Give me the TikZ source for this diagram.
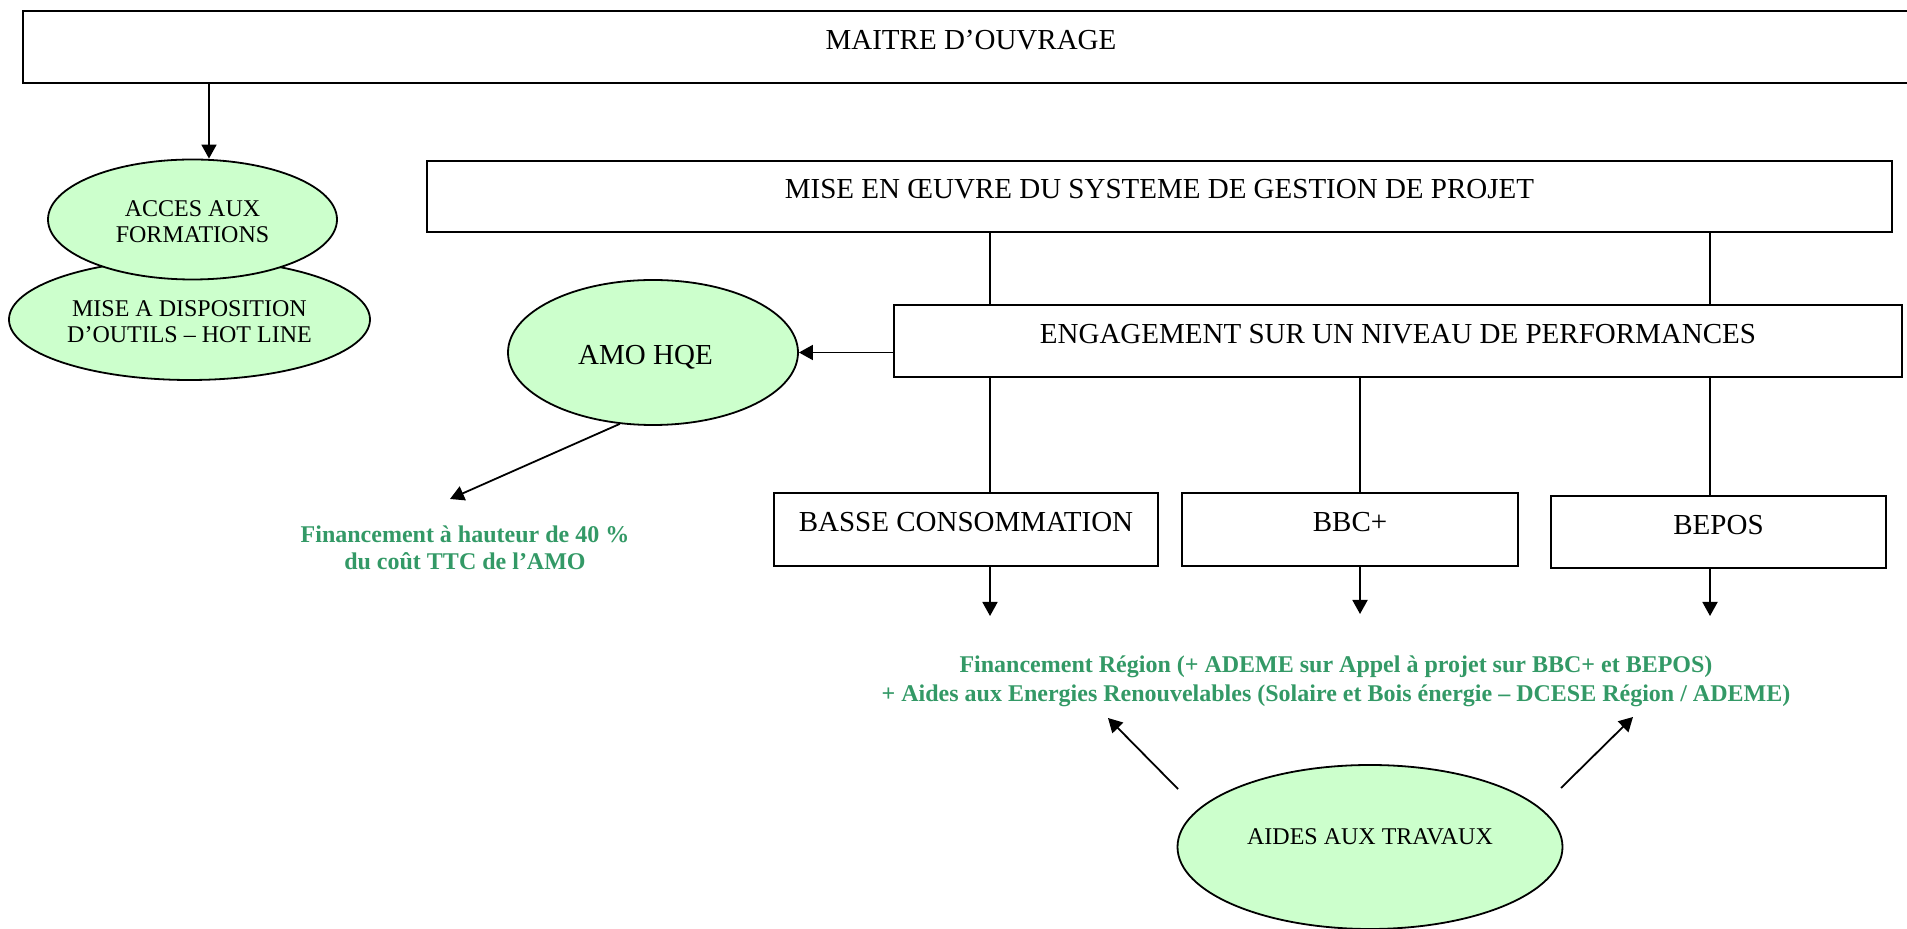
\documentclass[tikz,border=0pt]{standalone}
\usepackage{fontspec}
\setmainfont{Liberation Serif}
\usetikzlibrary{shapes.geometric,arrows.meta}
\definecolor{ellfill}{HTML}{CCFFCC}
\definecolor{fingreen}{HTML}{339966}
\begin{document}
\begin{tikzpicture}[x=0.5pt,y=-0.5pt,
  box/.style={draw, line width=1pt, rectangle, inner sep=0pt,
    font=\fontsize{14.5}{16}\selectfont, text height=10pt, text depth=7.75pt},
  ell/.style={draw, line width=0.9pt, ellipse, fill=ellfill, inner sep=0pt,
    align=center, font=\fontsize{12}{13}\selectfont},
  ell2/.style={ell, text height=23.4pt, text depth=0pt},
  fin/.style={text=fingreen, font=\bfseries\fontsize{12}{13.5}\selectfont,
    align=center, inner sep=0pt},
  conn/.style={line width=0.9pt},
  arr/.style={line width=0.9pt, -{Triangle[length=7pt,width=7.5pt]}}]
\useasboundingbox (0,0) rectangle (1907,929);

% boxes
\node[box, minimum width=943.5pt, minimum height=35.75pt] (maitre) at (966.5,47.25) {\hspace*{4.5pt}MAITRE D’OUVRAGE};
\node[box, minimum width=732.5pt, minimum height=35.5pt] (mise) at (1159.5,196.5) {MISE EN ŒUVRE DU SYSTEME DE GESTION DE PROJET};
\node[box, minimum width=504pt, minimum height=36pt] (eng) at (1398,341) {ENGAGEMENT SUR UN NIVEAU DE PERFORMANCES};
\node[box, minimum width=192pt, minimum height=36.5pt] (basse) at (966,529.5) {BASSE CONSOMMATION};
\node[box, minimum width=168pt, minimum height=36.5pt] (bbc) at (1350,529.5) {BBC+};
\node[box, minimum width=167.5pt, minimum height=36pt] (bepos) at (1718.5,532) {BEPOS};

% ellipses
\node[ell2, minimum width=180.5pt, minimum height=60.5pt] (dispo) at (189.5,319.5) {MISE A DISPOSITION\\D’OUTILS – HOT LINE};
\node[ell2, minimum width=144.5pt, minimum height=60pt] (acces) at (192.5,219.5) {ACCES AUX\\FORMATIONS};
\node[ell, minimum width=145pt, minimum height=72.5pt, font=\fontsize{14.5}{16}\selectfont,
  text height=15pt, text depth=2.5pt] (amo) at (653,352.5) {AMO HQE\hspace*{7.5pt}};
\node[ell, minimum width=192.5pt, minimum height=82pt, text height=8pt, text depth=10pt] (aides) at (1370,847) {AIDES AUX TRAVAUX};

% green texts
\node[fin] (fin1) at (465,548) {Financement à hauteur de 40 \%\\du coût TTC de l’AMO};
\node[fin, font=\bfseries\fontsize{12}{14.5}\selectfont] (fin2) at (1336,681)
  {Financement Région (+ ADEME sur Appel à projet sur BBC+ et BEPOS)\\+ Aides aux Energies Renouvelables (Solaire et Bois énergie – DCESE Région / ADEME)};

% coordinates
\coordinate (xa) at (209,0);
\coordinate (xl) at (990,0);
\coordinate (xm) at (1360,0);
\coordinate (xr) at (1710,0);
\coordinate (tipL) at (990,616);
\coordinate (tipM) at (1360,614);
\coordinate (tipR) at (1710,616);
\coordinate (fin1tip) at (450,499);
\coordinate (aidesL) at (1178,789);
\coordinate (aidesR) at (1561,788);
\coordinate (fin2L) at (1108,718);
\coordinate (fin2R) at (1633,717);

% connectors
\draw[arr] (maitre.south -| xa) -- (xa |- acces.north);
\draw[conn] (mise.south -| xl) -- (eng.north -| xl);
\draw[conn] (mise.south -| xr) -- (eng.north -| xr);
\draw[arr] (eng.west |- amo.east) -- (amo.east);
\draw[arr] (amo.245) -- (fin1tip);
\draw[conn] (eng.south -| xl) -- (basse.north -| xl);
\draw[conn] (eng.south -| xm) -- (bbc.north -| xm);
\draw[conn] (eng.south -| xr) -- (bepos.north -| xr);
\draw[arr] (basse.south -| tipL) -- (tipL);
\draw[arr] (bbc.south -| tipM) -- (tipM);
\draw[arr] (bepos.south -| tipR) -- (tipR);
\draw[arr] (aidesL) -- (fin2L);
\draw[arr] (aidesR) -- (fin2R);
\end{tikzpicture}
\end{document}
